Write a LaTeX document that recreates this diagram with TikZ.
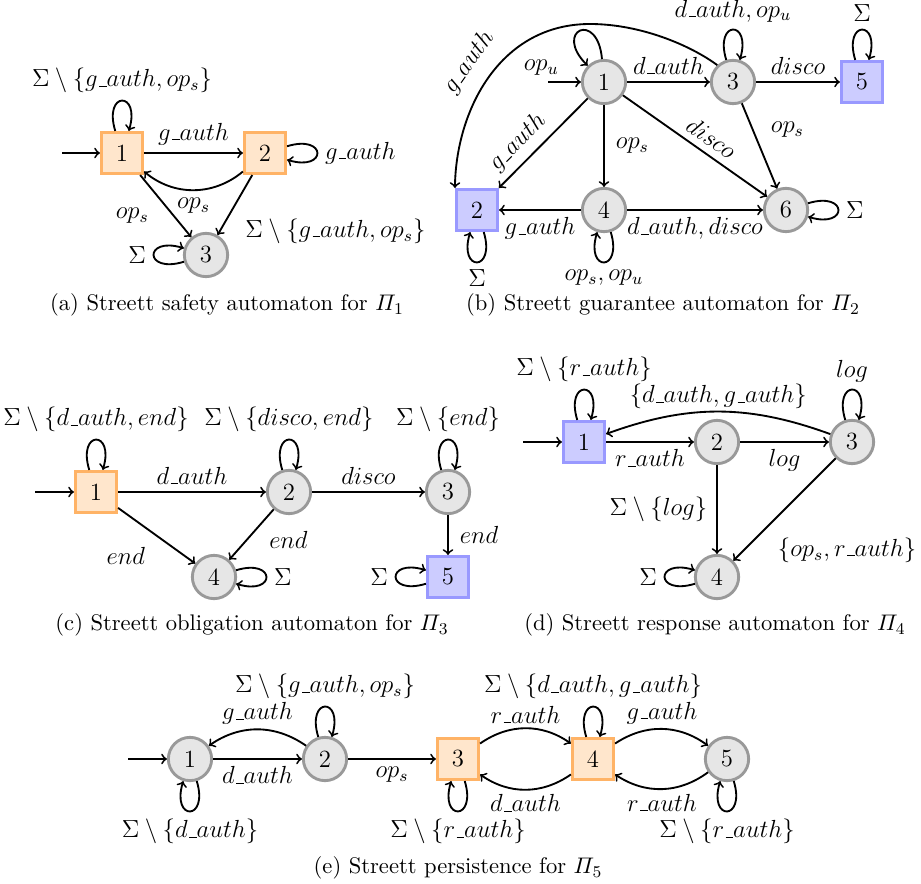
\documentclass[tikz,border=0pt]{standalone}
\usepackage{amsmath}
\definecolor{ofill}{HTML}{FFE6CC}
\definecolor{odraw}{HTML}{FFB366}
\definecolor{bfill}{HTML}{CCCCFF}
\definecolor{bdraw}{HTML}{9999FF}
\definecolor{cfill}{HTML}{E6E6E6}
\definecolor{cdraw}{HTML}{999999}
\newcommand{\usc}{\mbox{\kern.06em\vbox{\hrule width.3em height.5pt}}}
\newcommand{\gauth}{g\usc auth}
\newcommand{\dauth}{d\usc auth}
\newcommand{\rauth}{r\usc auth}
\begin{document}
\begin{tikzpicture}[x=0.485pt, y=0.485pt,
  font=\fontsize{12}{14}\selectfont,
  every loop/.style={min distance=5.8mm},
  lpabove/.style={out=107, in=73, loop},
  lpbelow/.style={out=287, in=253, loop},
  lpright/.style={out=17, in=-17, loop},
  lpleft/.style={out=197, in=163, loop},
  arr/.style={->, line width=0.9pt},
  stO/.style={rectangle, draw=odraw, fill=ofill, line width=1.4pt, minimum size=20pt, inner sep=0pt},
  stB/.style={rectangle, draw=bdraw, fill=bfill, line width=1.4pt, minimum size=20pt, inner sep=0pt},
  stC/.style={circle, draw=cdraw, fill=cfill, line width=1.4pt, minimum size=21pt, inner sep=0pt},
  capnode/.style={inner sep=0pt, font=\fontsize{10.95}{13}\selectfont}]
\useasboundingbox (0,0) rectangle (921,883);

% ---------------- (a)
\node[stO] (A1) at (122,730) {1};
\node[stO] (A2) at (265,730) {2};
\node[stC] (A3) at (206,628) {3};
\coordinate (A0) at (62,730);
\draw[arr] (A0) -- (A1);
\draw[arr] (A1) -- node[above] {$\gauth$} (A2);
\draw[arr] (A2) to[bend left=40] node[below] {$op_s$} (A1);
\draw[arr] (A1) -- node[pos=0.4, below left, xshift=-2pt] {$op_s$} (A3);
\draw[arr] (A2) -- node[pos=0.6, below right, xshift=3pt] {$\Sigma\setminus\{\gauth, op_s\}$} (A3);
\draw[arr] (A1) to[lpabove] node[above] {$\Sigma\setminus\{\gauth, op_s\}$} ();
\draw[arr] (A2) to[lpright] node[right] {$\gauth$} ();
\draw[arr] (A3) to[lpleft] node[left] {$\Sigma$} ();
\node[capnode] (capA) at (227,578) {(a) Streett safety automaton for $\varPi_1$};

% ---------------- (b)
\node[stC] (B1) at (604,801) {1};
\node[stC] (B3) at (733,801) {3};
\node[stB] (B5) at (862,801) {5};
\node[stB] (B2) at (477,673) {2};
\node[stC] (B4) at (604,673) {4};
\node[stC] (B6) at (786,673) {6};
\coordinate (B0) at (548,801);
\draw[arr] (B0) -- (B1);
\draw[arr] (B1) to[out=95, in=135, loop, every loop/.style={min distance=4.5mm}] node[pos=0.85, left=5pt, yshift=-8pt] {$op_u$} ();
\draw[arr] (B1) -- node[above] {$\dauth$} (B3);
\draw[arr] (B3) -- node[above] {$disco$} (B5);
\draw[arr] (B3) to[lpabove] node[above] {$\dauth,op_u$} ();
\draw[arr] (B5) to[lpabove] node[above] {$\Sigma$} ();
\draw[arr] (B3) -- node[pos=0.31, right=5pt] {$op_s$} (B6);
\draw[arr] (B1) -- node[pos=0.55, above, sloped] {$disco$} (B6);
\draw[arr] (B1) -- node[right=2pt] {$op_s$} (B4);
\draw[arr, <-] (B2) -- node[pos=0.36, above, sloped] {$\gauth$} (B1);
\draw[arr] (B4) -- node[below] {$\gauth$} (B2);
\draw[arr] (B4) -- node[below] {$\dauth,disco$} (B6);
\draw[arr] (B4) to[lpbelow] node[below] {$op_s,op_u$} ();
\draw[arr] (B2) to[lpbelow] node[below] {$\Sigma$} ();
\draw[arr] (B6) to[lpright] node[right] {$\Sigma$} ();
\coordinate (Btop) at (590,859);
\draw[arr, <-] (B2.north west) .. controls (456,773) and (500,859) .. node[pos=0.5, above=3pt, sloped] {$\gauth$} (Btop)
   .. controls (640,859) and (690,838) .. (B3.133);
\node[capnode] (capB) at (663,578) {(b) Streett guarantee automaton for $\varPi_2$};

% ---------------- (c)
\node[stO] (C1) at (96,391) {1};
\node[stC] (C2) at (289,391) {2};
\node[stC] (C3) at (448,391) {3};
\node[stC] (C4) at (214,306) {4};
\node[stB] (C5) at (448,306) {5};
\coordinate (C0) at (35,391);
\draw[arr] (C0) -- (C1);
\draw[arr] (C1) -- node[above] {$\dauth$} (C2);
\draw[arr] (C2) -- node[above] {$disco$} (C3);
\draw[arr] (C1) -- node[pos=0.45, below left, yshift=-3pt] {$end$} (C4);
\draw[arr] (C2) -- node[pos=0.6, right=7pt] {$end$} (C4);
\draw[arr] (C3) -- node[right=2pt] {$end$} (C5);
\draw[arr] (C1) to[lpabove] node[above] {$\Sigma\setminus\{\dauth, end\}$} ();
\draw[arr] (C2) to[lpabove] node[above] {$\Sigma\setminus\{disco, end\}$} ();
\draw[arr] (C3) to[lpabove] node[above] {$\Sigma\setminus\{end\}$} ();
\draw[arr] (C4) to[lpright] node[right] {$\Sigma$} ();
\draw[arr] (C5) to[lpleft] node[left] {$\Sigma$} ();
\node[capnode] (capC) at (252,258) {(c) Streett obligation automaton for $\varPi_3$};

% ---------------- (d)
\node[stB] (D1) at (584,441) {1};
\node[stC] (D2) at (717,441) {2};
\node[stC] (D3) at (852,441) {3};
\node[stC] (D4) at (717,306) {4};
\coordinate (D0) at (523,441);
\draw[arr] (D0) -- (D1);
\draw[arr] (D1) -- node[below] {$\rauth$} (D2);
\draw[arr] (D2) -- node[below] {$log$} (D3);
\draw[arr] (D3) to[bend right=20] node[above=-2.5pt] {$\{\dauth, \gauth\}$} (D1);
\draw[arr] (D2) -- node[left=1pt] {$\Sigma\setminus\{log\}$} (D4);
\draw[arr] (D3) -- node[pos=0.64, below right, yshift=-3pt] {$\{op_s, \rauth\}$} (D4);
\draw[arr] (D1) to[lpabove] node[above] {$\Sigma\setminus\{\rauth\}$} ();
\draw[arr] (D3) to[lpabove] node[above] {$log$} ();
\draw[arr] (D4) to[lpleft] node[left] {$\Sigma$} ();
\node[capnode] (capD) at (715,258) {(d) Streett response automaton for $\varPi_4$};

% ---------------- (e)
\node[stC] (E1) at (190,124) {1};
\node[stC] (E2) at (325,124) {2};
\node[stO] (E3) at (458,124) {3};
\node[stO] (E4) at (593,124) {4};
\node[stC] (E5) at (727,124) {5};
\coordinate (E0) at (128,124);
\draw[arr] (E0) -- (E1);
\draw[arr] (E1) -- node[below] {$\dauth$} (E2);
\draw[arr] (E2) to[bend right=35] node[above, inner sep=2pt] {$\gauth$} (E1);
\draw[arr] (E2) -- node[below] {$op_s$} (E3);
\draw[arr] (E3) to[bend left=35] node[above, inner sep=2pt] {$\rauth$} (E4);
\draw[arr] (E4) to[bend left=35] node[below, inner sep=2pt] {$\dauth$} (E3);
\draw[arr] (E4) to[bend left=35] node[above, inner sep=2pt] {$\gauth$} (E5);
\draw[arr] (E5) to[bend left=35] node[below, inner sep=2pt] {$\rauth$} (E4);
\draw[arr] (E1) to[lpbelow] node[below] {$\Sigma\setminus\{\dauth\}$} ();
\draw[arr] (E2) to[lpabove] node[above] {$\Sigma\setminus\{\gauth, op_s\}$} ();
\draw[arr] (E3) to[lpbelow] node[below] {$\Sigma\setminus\{\rauth\}$} ();
\draw[arr] (E4) to[lpabove] node[above] {$\Sigma\setminus\{\dauth, \gauth\}$} ();
\draw[arr] (E5) to[lpbelow] node[below] {$\Sigma\setminus\{\rauth\}$} ();
\node[capnode] (capE) at (458,15) {(e) Streett persistence for $\varPi_5$};
\end{tikzpicture}
\end{document}
